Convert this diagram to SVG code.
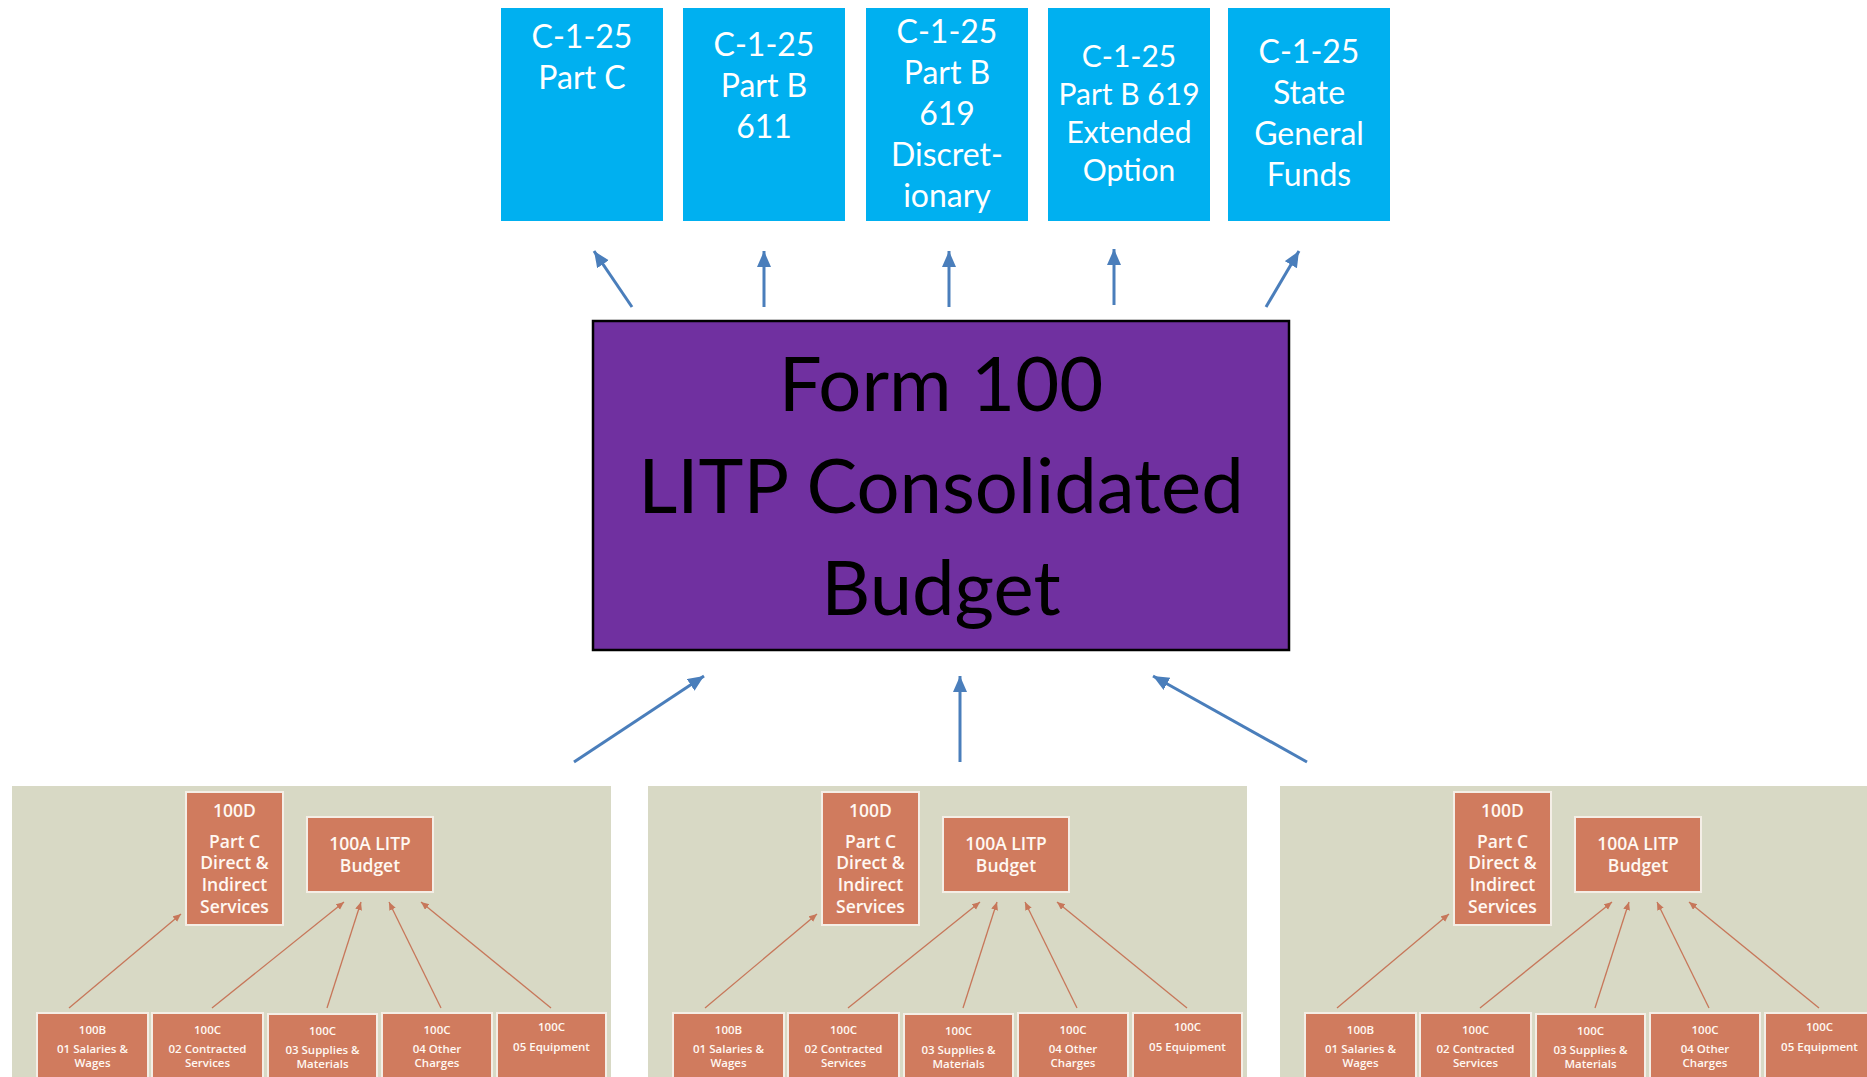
<svg xmlns="http://www.w3.org/2000/svg" width="1867" height="1077" viewBox="0 0 1867 1077">
<defs>
<style>
.src{fill:#00B0F0;}
.srct{font-family:Lato,"Open Sans","Liberation Sans",sans-serif;font-size:32px;fill:#FFFFFF;text-anchor:middle;}
.main{fill:#7030A0;stroke:#000000;stroke-width:2.5;}
.maint{font-family:Lato,"Open Sans","Liberation Sans",sans-serif;font-size:76px;fill:#000000;text-anchor:middle;}
.blue{stroke:#4A7EBB;stroke-width:3;fill:none;marker-end:url(#ab);}
.panel{fill:#D8D9C5;}
.box{fill:#D07B5E;stroke:#F4EEE6;stroke-width:2;}
.bt{font-family:"Open Sans",Roboto,"Liberation Sans",sans-serif;font-weight:600;fill:#FFF8F2;text-anchor:middle;}
.big{font-size:17.5px;}
.sm{font-size:11.5px;}
.thin{stroke:#C7775A;stroke-width:1.3;fill:none;marker-end:url(#ao);}
</style>
<marker id="ab" markerUnits="userSpaceOnUse" markerWidth="20" markerHeight="18" refX="16" refY="7" orient="auto">
<path d="M0,0 L16,7 L0,14 z" fill="#4A7EBB"/>
</marker>
<marker id="ao" markerUnits="userSpaceOnUse" markerWidth="10" markerHeight="8" refX="8" refY="3.5" orient="auto">
<path d="M0,0 L8,3.5 L0,7 z" fill="#C7775A"/>
</marker>
</defs>
<rect width="1867" height="1077" fill="#FFFFFF"/>

<g id="c125-partc">
<rect class="src" x="501" y="8" width="162" height="213"/>
<text class="srct" x="582" y="48">C-1-25</text>
<text class="srct" x="582" y="89">Part C</text>
</g>
<g id="c125-partb611">
<rect class="src" x="683" y="8" width="162" height="213"/>
<text class="srct" x="764" y="56">C-1-25</text>
<text class="srct" x="764" y="97">Part B</text>
<text class="srct" x="764" y="138">611</text>
</g>
<g id="c125-partb619-disc">
<rect class="src" x="866" y="8" width="162" height="213"/>
<text class="srct" x="947" y="43">C-1-25</text>
<text class="srct" x="947" y="84">Part B</text>
<text class="srct" x="947" y="125">619</text>
<text class="srct" x="947" y="166">Discret-</text>
<text class="srct" x="947" y="207">ionary</text>
</g>
<g id="c125-partb619-ext">
<rect class="src" x="1048" y="8" width="162" height="213"/>
<text class="srct" x="1129" y="67" style="font-size:30px">C-1-25</text>
<text class="srct" x="1129" y="105" style="font-size:30px">Part B 619</text>
<text class="srct" x="1129" y="143" style="font-size:30px">Extended</text>
<text class="srct" x="1129" y="181" style="font-size:30px">Option</text>
</g>
<g id="c125-state">
<rect class="src" x="1228" y="8" width="162" height="213"/>
<text class="srct" x="1309" y="63">C-1-25</text>
<text class="srct" x="1309" y="104">State</text>
<text class="srct" x="1309" y="145">General</text>
<text class="srct" x="1309" y="186">Funds</text>
</g>

<g id="form100">
<rect class="main" x="593" y="321" width="696" height="329"/>
<text class="maint" x="941" y="411">Form 100</text>
<text class="maint" x="941" y="513">LITP Consolidated</text>
<text class="maint" x="941" y="615">Budget</text>
</g>

<g id="panel1">
<rect class="panel" x="12" y="786" width="599" height="300"/>
<g id="p1-100d"><rect class="box" x="186" y="792" width="97" height="133"/>
<text class="bt big" x="234.5" y="817">100D</text>
<text class="bt big" x="234.5" y="848">Part C</text>
<text class="bt big" x="234.5" y="869">Direct &amp;</text>
<text class="bt big" x="234.5" y="891">Indirect</text>
<text class="bt big" x="234.5" y="913">Services</text></g>
<g id="p1-100a"><rect class="box" x="307" y="817" width="126" height="75"/>
<text class="bt big" x="370" y="850">100A LITP</text>
<text class="bt big" x="370" y="872">Budget</text></g>
<g id="p1-100b"><rect class="box" x="37" y="1013" width="111" height="80"/>
<text class="bt sm" x="92.5" y="1034">100B</text>
<text class="bt sm" x="92.5" y="1053">01 Salaries &amp;</text>
<text class="bt sm" x="92.5" y="1067">Wages</text></g>
<g id="p1-100c02"><rect class="box" x="152" y="1013" width="111" height="80"/>
<text class="bt sm" x="207.5" y="1034">100C</text>
<text class="bt sm" x="207.5" y="1053">02 Contracted</text>
<text class="bt sm" x="207.5" y="1067">Services</text></g>
<g id="p1-100c03"><rect class="box" x="268" y="1014" width="109" height="80"/>
<text class="bt sm" x="322.5" y="1035">100C</text>
<text class="bt sm" x="322.5" y="1054">03 Supplies &amp;</text>
<text class="bt sm" x="322.5" y="1068">Materials</text></g>
<g id="p1-100c04"><rect class="box" x="382" y="1013" width="110" height="80"/>
<text class="bt sm" x="437" y="1034">100C</text>
<text class="bt sm" x="437" y="1053">04 Other</text>
<text class="bt sm" x="437" y="1067">Charges</text></g>
<g id="p1-100c05"><rect class="box" x="497" y="1013" width="109" height="80"/>
<text class="bt sm" x="551.5" y="1031">100C</text>
<text class="bt sm" x="551.5" y="1051">05 Equipment</text></g>
</g>

<g id="panel2" transform="translate(636,0)">
<rect class="panel" x="12" y="786" width="599" height="300"/>
<g id="p2-100d"><rect class="box" x="186" y="792" width="97" height="133"/>
<text class="bt big" x="234.5" y="817">100D</text>
<text class="bt big" x="234.5" y="848">Part C</text>
<text class="bt big" x="234.5" y="869">Direct &amp;</text>
<text class="bt big" x="234.5" y="891">Indirect</text>
<text class="bt big" x="234.5" y="913">Services</text></g>
<g id="p2-100a"><rect class="box" x="307" y="817" width="126" height="75"/>
<text class="bt big" x="370" y="850">100A LITP</text>
<text class="bt big" x="370" y="872">Budget</text></g>
<g id="p2-100b"><rect class="box" x="37" y="1013" width="111" height="80"/>
<text class="bt sm" x="92.5" y="1034">100B</text>
<text class="bt sm" x="92.5" y="1053">01 Salaries &amp;</text>
<text class="bt sm" x="92.5" y="1067">Wages</text></g>
<g id="p2-100c02"><rect class="box" x="152" y="1013" width="111" height="80"/>
<text class="bt sm" x="207.5" y="1034">100C</text>
<text class="bt sm" x="207.5" y="1053">02 Contracted</text>
<text class="bt sm" x="207.5" y="1067">Services</text></g>
<g id="p2-100c03"><rect class="box" x="268" y="1014" width="109" height="80"/>
<text class="bt sm" x="322.5" y="1035">100C</text>
<text class="bt sm" x="322.5" y="1054">03 Supplies &amp;</text>
<text class="bt sm" x="322.5" y="1068">Materials</text></g>
<g id="p2-100c04"><rect class="box" x="382" y="1013" width="110" height="80"/>
<text class="bt sm" x="437" y="1034">100C</text>
<text class="bt sm" x="437" y="1053">04 Other</text>
<text class="bt sm" x="437" y="1067">Charges</text></g>
<g id="p2-100c05"><rect class="box" x="497" y="1013" width="109" height="80"/>
<text class="bt sm" x="551.5" y="1031">100C</text>
<text class="bt sm" x="551.5" y="1051">05 Equipment</text></g>
</g>

<g id="panel3" transform="translate(1268,0)">
<rect class="panel" x="12" y="786" width="599" height="300"/>
<g id="p3-100d"><rect class="box" x="186" y="792" width="97" height="133"/>
<text class="bt big" x="234.5" y="817">100D</text>
<text class="bt big" x="234.5" y="848">Part C</text>
<text class="bt big" x="234.5" y="869">Direct &amp;</text>
<text class="bt big" x="234.5" y="891">Indirect</text>
<text class="bt big" x="234.5" y="913">Services</text></g>
<g id="p3-100a"><rect class="box" x="307" y="817" width="126" height="75"/>
<text class="bt big" x="370" y="850">100A LITP</text>
<text class="bt big" x="370" y="872">Budget</text></g>
<g id="p3-100b"><rect class="box" x="37" y="1013" width="111" height="80"/>
<text class="bt sm" x="92.5" y="1034">100B</text>
<text class="bt sm" x="92.5" y="1053">01 Salaries &amp;</text>
<text class="bt sm" x="92.5" y="1067">Wages</text></g>
<g id="p3-100c02"><rect class="box" x="152" y="1013" width="111" height="80"/>
<text class="bt sm" x="207.5" y="1034">100C</text>
<text class="bt sm" x="207.5" y="1053">02 Contracted</text>
<text class="bt sm" x="207.5" y="1067">Services</text></g>
<g id="p3-100c03"><rect class="box" x="268" y="1014" width="109" height="80"/>
<text class="bt sm" x="322.5" y="1035">100C</text>
<text class="bt sm" x="322.5" y="1054">03 Supplies &amp;</text>
<text class="bt sm" x="322.5" y="1068">Materials</text></g>
<g id="p3-100c04"><rect class="box" x="382" y="1013" width="110" height="80"/>
<text class="bt sm" x="437" y="1034">100C</text>
<text class="bt sm" x="437" y="1053">04 Other</text>
<text class="bt sm" x="437" y="1067">Charges</text></g>
<g id="p3-100c05"><rect class="box" x="497" y="1013" width="109" height="80"/>
<text class="bt sm" x="551.5" y="1031">100C</text>
<text class="bt sm" x="551.5" y="1051">05 Equipment</text></g>
</g>

<g id="connectors">
<line class="blue" x1="632" y1="307" x2="594" y2="251"/>
<line class="blue" x1="764" y1="307" x2="764" y2="251"/>
<line class="blue" x1="949" y1="307" x2="949" y2="251"/>
<line class="blue" x1="1114" y1="305" x2="1114" y2="249"/>
<line class="blue" x1="1266" y1="307" x2="1299" y2="251"/>
<line class="blue" x1="574" y1="762" x2="704" y2="676"/>
<line class="blue" x1="960" y1="762" x2="960" y2="676"/>
<line class="blue" x1="1307" y1="762" x2="1153" y2="676"/>
<g transform="translate(0,0)">
<line class="thin" x1="69" y1="1008" x2="181" y2="914"/>
<line class="thin" x1="212" y1="1008" x2="344" y2="902"/>
<line class="thin" x1="327" y1="1008" x2="361" y2="902"/>
<line class="thin" x1="441" y1="1008" x2="389" y2="902"/>
<line class="thin" x1="551" y1="1008" x2="421" y2="902"/>
</g>
<g transform="translate(636,0)">
<line class="thin" x1="69" y1="1008" x2="181" y2="914"/>
<line class="thin" x1="212" y1="1008" x2="344" y2="902"/>
<line class="thin" x1="327" y1="1008" x2="361" y2="902"/>
<line class="thin" x1="441" y1="1008" x2="389" y2="902"/>
<line class="thin" x1="551" y1="1008" x2="421" y2="902"/>
</g>
<g transform="translate(1268,0)">
<line class="thin" x1="69" y1="1008" x2="181" y2="914"/>
<line class="thin" x1="212" y1="1008" x2="344" y2="902"/>
<line class="thin" x1="327" y1="1008" x2="361" y2="902"/>
<line class="thin" x1="441" y1="1008" x2="389" y2="902"/>
<line class="thin" x1="551" y1="1008" x2="421" y2="902"/>
</g>
</g>
</svg>
